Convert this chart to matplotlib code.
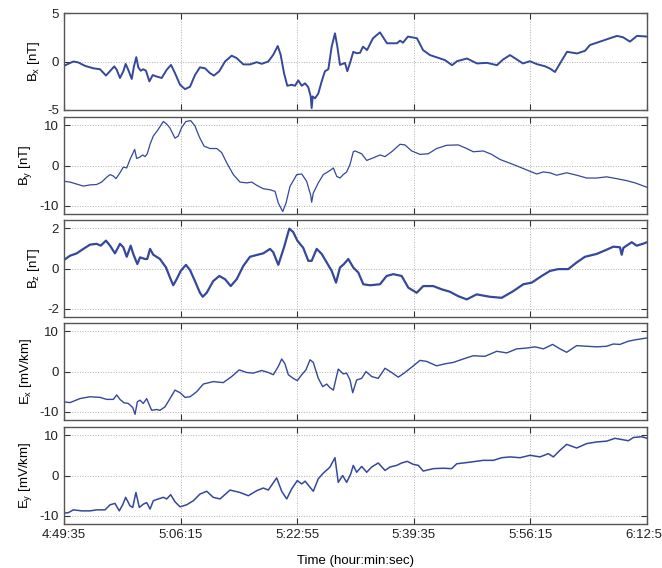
import matplotlib.pyplot as plt

plt.rcParams['font.family'] = ['Liberation Sans', 'DejaVu Sans']
plt.rcParams['mathtext.default'] = 'regular'
plt.rcParams['axes.unicode_minus'] = False

# time in seconds after 4:49:35
bx_t = [0, 37, 80, 123, 180, 251, 309, 360, 394, 431, 452, 480, 509, 529, 551, 581, 600, 620, 637, 658,
        680, 703, 732, 761, 795, 838, 881, 918, 952, 995, 1038, 1081, 1123, 1166, 1209, 1252, 1286, 1332,
        1381, 1438, 1481, 1538, 1595, 1653, 1696, 1752, 1795, 1833, 1858, 1887, 1915, 1953, 1981, 2009,
        2039, 2067, 2095, 2116, 2124, 2133, 2153, 2181, 2210, 2238, 2267, 2296, 2324, 2344, 2367, 2390,
        2410, 2430, 2453, 2481, 2510, 2539, 2564, 2599, 2650, 2710, 2770, 2856, 2882, 2907, 2950, 3027,
        3079, 3139, 3199, 3268, 3328, 3370, 3456, 3542, 3628, 3713, 3765, 3825, 3885, 3936, 3996, 4057,
        4125, 4168, 4211, 4254, 4314, 4400, 4468, 4511, 4597, 4683, 4743, 4794, 4854, 4914, 5000]
bx_v = [-0.45, -0.24, 0.0, -0.1, -0.45, -0.7, -0.8, -1.45, -1.0, -0.5, -0.85, -1.7, -1.0, -0.25, -0.85,
        -1.8, -0.5, 0.45, -0.6, -0.95, -0.8, -0.95, -2.05, -1.4, -1.55, -1.7, -0.85, -0.35, -1.2, -2.4,
        -2.85, -2.6, -1.4, -0.6, -0.7, -1.2, -1.45, -1.0, 0.0, 0.6, 0.35, -0.3, -0.3, -0.07, -0.24, 0.0,
        0.7, 1.6, 0.7, -1.2, -2.5, -2.4, -2.5, -1.95, -2.5, -2.25, -2.65, -3.6, -4.8, -3.6, -3.8, -3.3,
        -2.05, -1.0, -0.8, 1.55, 2.9, 1.55, -0.35, -0.24, -0.15, -1.0, -0.15, 1.0, 0.85, 0.9, 1.53, 1.18,
        2.4, 3.0, 1.88, 1.88, 2.15, 1.94, 2.57, 2.4, 1.18, 0.66, 0.42, 0.14, -0.38, 0.03, 0.31, -0.2,
        -0.14, -0.38, 0.2, 0.66, 0.2, -0.2, 0.03, -0.28, -0.49, -0.73, -1.08, -0.2, 1.0, 0.83, 1.1, 1.7,
        2.05, 2.4, 2.64, 2.5, 2.05, 2.64, 2.57]

by_t = [0, 51, 109, 166, 223, 280, 323, 366, 395, 423, 446, 480, 509, 538, 566, 589, 606, 623, 652, 675,
        695, 714, 738, 766, 800, 823, 852, 881, 909, 952, 980, 1009, 1046, 1087, 1123, 1160, 1201, 1252,
        1310, 1352, 1395, 1452, 1509, 1567, 1610, 1653, 1709, 1767, 1810, 1838, 1876, 1904, 1938, 1996,
        2039, 2081, 2116, 2124, 2138, 2181, 2224, 2281, 2310, 2339, 2367, 2395, 2424, 2453, 2481, 2496,
        2553, 2596, 2653, 2710, 2753, 2810, 2882, 2924, 2982, 3053, 3124, 3196, 3282, 3381, 3454, 3510,
        3596, 3668, 3739, 3853, 3939, 4011, 4054, 4111, 4168, 4225, 4311, 4397, 4483, 4568, 4654, 4740,
        4826, 4897, 4954, 5000]
by_v = [-3.9, -4.1, -4.6, -5.1, -4.8, -4.7, -4.1, -2.9, -2.25, -2.6, -3.25, -1.8, -0.4, -0.6, 1.5, 2.9,
        4.0, 1.75, 2.1, 2.6, 2.2, 2.9, 5.25, 7.3, 8.6, 9.6, 10.9, 10.25, 9.25, 6.75, 7.3, 9.4, 10.9, 11.1,
        9.8, 7.1, 4.8, 4.2, 4.2, 3.2, 0.7, -2.25, -4.1, -4.3, -4.1, -4.9, -5.75, -6.0, -6.4, -9.3, -11.4,
        -9.3, -5.2, -2.25, -2.1, -3.9, -7.4, -9.1, -6.8, -4.3, -2.25, -1.25, -0.6, -2.7, -3.1, -2.25,
        -1.6, 0.25, 3.4, 3.6, 2.9, 1.25, 1.9, 2.6, 2.2, 3.4, 5.25, 5.1, 3.6, 2.75, 2.9, 4.2, 5.0, 5.1,
        4.2, 3.4, 3.6, 2.75, 1.5, 0.25, -0.75, -1.6, -2.1, -1.6, -1.8, -2.4, -1.8, -2.4, -3.1, -3.1, -2.8,
        -3.25, -3.75, -4.3, -4.9, -5.4]

bz_t = [0, 51, 109, 166, 223, 280, 315, 360, 395, 437, 480, 509, 538, 572, 594, 629, 652, 695, 714, 738,
        766, 823, 875, 909, 937, 966, 1001, 1046, 1081, 1123, 1166, 1190, 1224, 1280, 1332, 1381, 1430,
        1481, 1538, 1595, 1653, 1709, 1767, 1795, 1838, 1887, 1932, 1966, 2001, 2052, 2095, 2124, 2167,
        2210, 2253, 2296, 2333, 2367, 2401, 2438, 2481, 2524, 2567, 2624, 2710, 2767, 2824, 2896, 2953,
        3025, 3081, 3167, 3239, 3310, 3381, 3454, 3539, 3653, 3754, 3853, 3939, 4011, 4097, 4168, 4239,
        4325, 4397, 4468, 4568, 4654, 4711, 4768, 4783, 4797, 4869, 4911, 4963, 5000]
bz_v = [0.42, 0.63, 0.75, 0.97, 1.18, 1.22, 1.13, 1.38, 1.13, 0.75, 1.22, 1.05, 0.58, 1.13, 0.72, 0.22,
        0.55, 0.47, 0.47, 0.97, 0.68, 0.47, 0.05, -0.45, -0.83, -0.53, -0.12, 0.18, -0.08, -0.62, -1.2,
        -1.4, -1.2, -0.62, -0.37, -0.53, -0.87, -0.53, 0.13, 0.58, 0.67, 0.75, 0.97, 0.8, 0.18, 1.05,
        1.97, 1.8, 1.38, 1.02, 0.38, 0.38, 0.97, 0.72, 0.3, -0.12, -0.7, 0.05, 0.22, 0.47, 0.05, -0.2,
        -0.78, -0.83, -0.78, -0.37, -0.28, -0.37, -0.95, -1.2, -0.87, -0.87, -1.03, -1.15, -1.37, -1.53,
        -1.28, -1.4, -1.45, -1.12, -0.78, -0.7, -0.37, -0.12, -0.03, -0.03, 0.3, 0.58, 0.72, 0.93, 1.08,
        1.05, 0.68, 1.02, 1.3, 1.13, 1.22, 1.3]

ex_t = [0, 51, 137, 223, 309, 366, 423, 452, 480, 515, 551, 589, 609, 629, 652, 680, 709, 732, 752, 795,
        823, 866, 909, 952, 995, 1038, 1081, 1138, 1195, 1280, 1366, 1438, 1503, 1567, 1623, 1696, 1752,
        1795, 1838, 1867, 1895, 1924, 1966, 2001, 2039, 2075, 2110, 2138, 2181, 2219, 2253, 2281, 2310,
        2352, 2395, 2424, 2453, 2476, 2510, 2553, 2590, 2639, 2695, 2753, 2810, 2867, 2924, 2996, 3053,
        3110, 3196, 3267, 3339, 3424, 3510, 3610, 3711, 3797, 3882, 3968, 4040, 4111, 4191, 4254, 4311,
        4397, 4483, 4568, 4654, 4711, 4768, 4840, 4911, 5000]
ex_v = [-7.5, -7.7, -6.7, -6.25, -6.4, -6.9, -6.9, -5.8, -6.9, -7.75, -7.9, -8.9, -10.6, -7.5, -7.1,
        -7.9, -6.7, -8.3, -9.6, -9.4, -9.6, -8.75, -6.7, -4.6, -5.25, -6.4, -6.25, -5.0, -3.1, -2.5,
        -2.75, -1.25, 0.4, -0.25, -0.4, 0.25, -0.25, -0.8, 1.25, 3.1, 1.9, -0.8, -1.7, -2.25, -0.8, 0.4,
        2.9, 2.25, -1.7, -3.75, -3.1, -4.0, -4.6, 0.6, -0.6, -0.4, -2.1, -5.25, -2.1, -1.7, 0.0, -1.25,
        -1.7, 0.8, -0.25, -1.4, -0.25, 1.4, 2.75, 2.5, 1.4, 1.9, 2.25, 3.1, 3.9, 3.75, 5.0, 4.6, 5.6, 5.8,
        6.1, 5.6, 6.7, 5.6, 4.75, 6.4, 6.25, 6.1, 6.25, 6.8, 6.7, 7.5, 7.9, 8.3]

ey_t = [0, 37, 80, 152, 223, 280, 352, 395, 437, 474, 503, 529, 566, 589, 617, 646, 680, 709, 738, 766,
        809, 852, 881, 915, 952, 995, 1052, 1109, 1166, 1224, 1280, 1338, 1424, 1509, 1581, 1653, 1709,
        1752, 1824, 1867, 1910, 1953, 2001, 2039, 2067, 2110, 2138, 2181, 2224, 2267, 2281, 2324, 2352,
        2390, 2424, 2459, 2481, 2510, 2553, 2596, 2639, 2695, 2753, 2796, 2853, 2896, 2944, 2996, 3039,
        3081, 3167, 3253, 3325, 3368, 3482, 3596, 3682, 3754, 3825, 3911, 3997, 4082, 4154, 4197, 4254,
        4311, 4397, 4483, 4568, 4654, 4725, 4783, 4840, 4883, 4954, 5000]
ey_v = [-9.3, -9.2, -8.5, -8.75, -8.75, -8.5, -8.5, -7.25, -6.9, -8.75, -7.25, -5.4, -7.5, -7.9, -4.2,
        -7.9, -7.1, -6.7, -8.3, -6.25, -5.8, -5.4, -5.8, -4.75, -6.5, -7.75, -7.25, -6.25, -4.6, -3.9,
        -5.4, -5.8, -3.6, -4.2, -5.0, -3.75, -3.1, -3.6, -0.6, -3.9, -5.8, -3.3, -1.25, -2.1, -1.4, -2.9,
        -3.9, -0.8, 0.6, 1.7, 2.1, 4.4, -1.7, 0.0, -1.7, 0.4, 2.5, 0.8, 2.25, 0.8, 2.1, 3.1, 1.25, 2.1,
        2.5, 3.1, 3.5, 2.75, 2.5, 1.1, 1.7, 1.8, 1.7, 2.9, 3.3, 3.75, 3.75, 4.4, 4.6, 4.4, 5.0, 4.6, 5.4,
        4.6, 6.25, 7.7, 6.8, 7.9, 8.3, 8.5, 9.2, 8.9, 8.6, 9.4, 9.6, 9.2]

panels = [
    (bx_t, bx_v, 'B$_x$ [nT]', (-5, 5), [-5, 0, 5], 1.4),
    (by_t, by_v, 'B$_y$ [nT]', (-12, 12), [-10, 0, 10], 0.9),
    (bz_t, bz_v, 'B$_z$ [nT]', (-2.4, 2.4), [-2, 0, 2], 1.6),
    (ex_t, ex_v, 'E$_x$ [mV/km]', (-12, 12), [-10, 0, 10], 1.0),
    (ey_t, ey_v, 'E$_y$ [mV/km]', (-12, 12), [-10, 0, 10], 1.1),
]

xticks = [0, 1000, 2000, 3000, 4000, 5000]
xticklabels = ['4:49:35', '5:06:15', '5:22:55', '5:39:35', '5:56:15', '6:12:55']

fig = plt.figure(figsize=(6.62, 5.68), dpi=100)
W, H = 662.0, 568.0
tops = [13, 117, 220, 323, 427]
line_color = '#35489a'

for i, (t, v, label, ylim, yticks, lw) in enumerate(panels):
    top = tops[i]
    ax = fig.add_axes([64 / W, 1 - (top + 97) / H, 583 / W, 97 / H])
    ax.plot(t, v, color=line_color, lw=lw, solid_joinstyle='round', solid_capstyle='round')
    ax.set_xlim(0, 5000)
    ax.set_ylim(*ylim)
    ax.set_yticks(yticks)
    ax.set_xticks(xticks)
    if i == len(panels) - 1:
        ax.set_xticklabels(xticklabels)
        ax.set_xlabel('Time (hour:min:sec)', fontsize=9.5, labelpad=10)
    else:
        ax.set_xticklabels([])
    ax.set_ylabel(label, fontsize=9.5, labelpad=4)
    ax.grid(True, linestyle=':', color='#b0b0b0', lw=0.7)
    ax.tick_params(direction='in', top=True, right=True, length=4, width=0.8,
                   labelsize=9.5, colors='#333333', labelcolor='#222222')
    for s in ax.spines.values():
        s.set_color('#555555')
        s.set_linewidth(1.0)

fig.savefig('out.png', dpi=100)
